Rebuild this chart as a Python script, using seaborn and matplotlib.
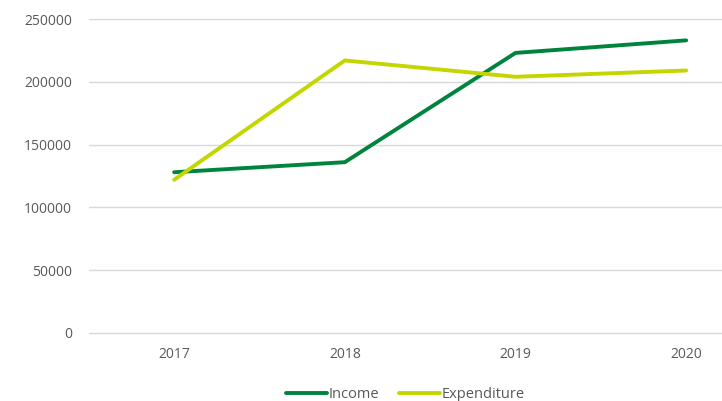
import matplotlib
matplotlib.use('Agg')
import matplotlib.pyplot as plt
import pandas as pd
import seaborn as sns

years = ['2017', '2018', '2019', '2020']
income = [128000, 136000, 223000, 233000]
expenditure = [122000, 217000, 204000, 209000]

df = pd.DataFrame({
    'year': years * 2,
    'value': income + expenditure,
    'series': ['Income'] * 4 + ['Expenditure'] * 4,
})

sns.set_style('white')
plt.rcParams['font.family'] = ['Open Sans', 'DejaVu Sans']

fig = plt.figure(figsize=(7.22, 4.01), dpi=100)
ax = fig.add_axes([0.123, 0.1696, 0.877, 0.783])

sns.lineplot(data=df, x='year', y='value', hue='series', ax=ax,
             palette={'Income': '#00843d', 'Expenditure': '#c4d600'},
             linewidth=2.8, sort=False)

ax.set_xlim(-0.5, 3.21)
ax.set_ylim(0, 250000)
ax.set_yticks(range(0, 250001, 50000))
ax.set_yticklabels([str(v) for v in range(0, 250001, 50000)])
ax.set_xlabel('')
ax.set_ylabel('')
ax.grid(axis='y', color='#d9d9d9', linewidth=1)
for gl in ax.get_ygridlines():
    gl.set_clip_on(False)
ax.set_axisbelow(True)
for s in ax.spines.values():
    s.set_visible(False)
ax.tick_params(axis='both', length=0, labelsize=10, labelcolor='#595959')
ax.tick_params(axis='y', pad=12)
ax.tick_params(axis='x', pad=10)

leg = ax.legend(loc='upper center', bbox_to_anchor=(0.5, -0.13), ncol=2,
                frameon=False, handlelength=2.8, handletextpad=0.1,
                columnspacing=1.4, fontsize=10.5)
for t in leg.get_texts():
    t.set_color('#595959')

fig.savefig('out.png', dpi=100)
